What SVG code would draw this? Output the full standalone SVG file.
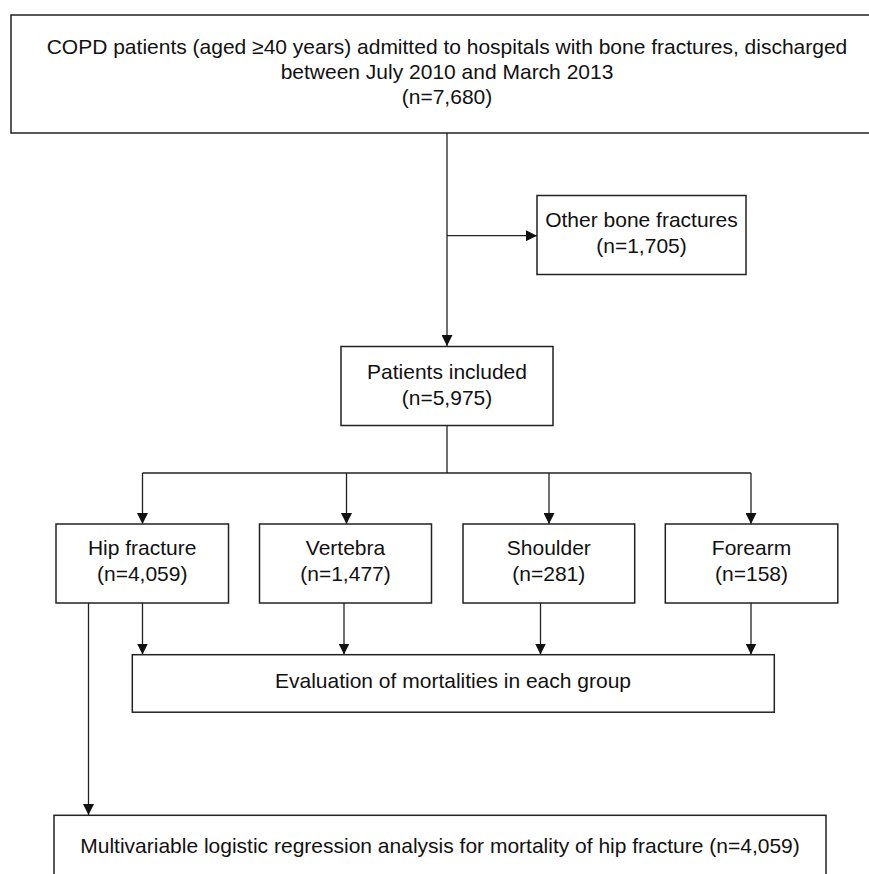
<svg xmlns="http://www.w3.org/2000/svg" width="869" height="874" viewBox="0 0 869 874">
<style>
.box{fill:#fff;stroke:#222;stroke-width:1.5}
.ln{fill:none;stroke:#222;stroke-width:1.3}
text{font-family:"Liberation Sans",Arial,sans-serif;font-size:21px;fill:#111;text-anchor:middle}
</style>
<defs>
<marker id="ah" viewBox="0 0 11 11" refX="11" refY="5.5" markerWidth="11" markerHeight="11" markerUnits="userSpaceOnUse" orient="auto">
<path d="M0,0 L11,5.5 L0,11 Z" fill="#111"/>
</marker>
</defs>
<rect width="869" height="874" fill="#fff"/>
<g id="connectors">
<path class="ln" d="M447,133 V346" marker-end="url(#ah)"/>
<path class="ln" d="M447,235.7 H537" marker-end="url(#ah)"/>
<path class="ln" d="M447,426 V473"/>
<path class="ln" d="M142.5,473 H751"/>
<path class="ln" d="M142.5,473 V524" marker-end="url(#ah)"/>
<path class="ln" d="M346.5,473 V524" marker-end="url(#ah)"/>
<path class="ln" d="M549,473 V524" marker-end="url(#ah)"/>
<path class="ln" d="M751,473 V524" marker-end="url(#ah)"/>
<path class="ln" d="M142.5,603 V654.5" marker-end="url(#ah)"/>
<path class="ln" d="M344,603 V654.5" marker-end="url(#ah)"/>
<path class="ln" d="M540.5,603 V654.5" marker-end="url(#ah)"/>
<path class="ln" d="M751,603 V654.5" marker-end="url(#ah)"/>
<path class="ln" d="M88.5,603 V815" marker-end="url(#ah)"/>
</g>
<g id="n-copd">
<rect class="box" x="11" y="15" width="872" height="118"/>
<text x="447" y="54">COPD patients (aged ≥40 years) admitted to hospitals with bone fractures, discharged</text>
<text x="447" y="79">between July 2010 and March 2013</text>
<text x="447" y="104">(n=7,680)</text>
</g>
<g id="n-other">
<rect class="box" x="537" y="195.5" width="209" height="79"/>
<text x="641.5" y="227">Other bone fractures</text>
<text x="641.5" y="253">(n=1,705)</text>
</g>
<g id="n-included">
<rect class="box" x="341" y="346.5" width="212" height="79"/>
<text x="447" y="379">Patients included</text>
<text x="447" y="405">(n=5,975)</text>
</g>
<g id="n-hip">
<rect class="box" x="56" y="524" width="172.5" height="79"/>
<text x="142.2" y="555">Hip fracture</text>
<text x="142.2" y="581">(n=4,059)</text>
</g>
<g id="n-vertebra">
<rect class="box" x="259.5" y="524" width="172" height="79"/>
<text x="345.5" y="555">Vertebra</text>
<text x="345.5" y="581">(n=1,477)</text>
</g>
<g id="n-shoulder">
<rect class="box" x="463" y="524" width="171.7" height="79"/>
<text x="548.8" y="555">Shoulder</text>
<text x="548.8" y="581">(n=281)</text>
</g>
<g id="n-forearm">
<rect class="box" x="665.3" y="524" width="172.5" height="79"/>
<text x="751.5" y="555">Forearm</text>
<text x="751.5" y="581">(n=158)</text>
</g>
<g id="n-eval">
<rect class="box" x="132.3" y="654.7" width="642" height="57.5"/>
<text x="453" y="688">Evaluation of mortalities in each group</text>
</g>
<g id="n-multi">
<rect class="box" x="54" y="815.3" width="772" height="80"/>
<text x="440" y="853">Multivariable logistic regression analysis for mortality of hip fracture (n=4,059)</text>
</g>
</svg>
